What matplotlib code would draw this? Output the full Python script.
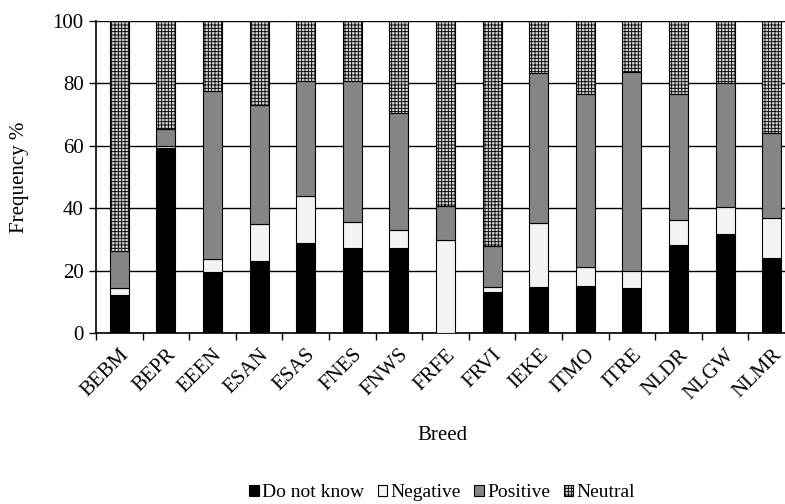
import numpy as np
import matplotlib.pyplot as plt
import matplotlib as mpl

plt.rcParams['font.family'] = ['Liberation Serif', 'DejaVu Serif']
mpl.rcParams['hatch.linewidth'] = 0.6

breeds = ["BEBM", "BEPR", "EEEN", "ESAN", "ESAS", "FNES", "FNWS", "FRFE",
          "FRVI", "IEKE", "ITMO", "ITRE", "NLDR", "NLGW", "NLMR"]
# cumulative tops
top_dont_know = [12.2, 59.4, 19.5, 23.0, 28.9, 27.3, 27.3, 0.0,
                 13.3, 14.9, 15.2, 14.4, 28.2, 31.7, 24.0]
top_negative = [14.4, 59.8, 23.7, 34.9, 43.9, 35.7, 33.0, 29.7,
                14.7, 35.3, 21.1, 19.9, 36.1, 40.4, 36.9]
top_positive = [26.2, 65.5, 77.5, 73.2, 80.9, 80.9, 70.6, 40.7,
                27.9, 83.4, 76.6, 83.5, 76.6, 80.2, 64.2]

dont_know = np.array(top_dont_know)
negative = np.array(top_negative) - dont_know
positive = np.array(top_positive) - np.array(top_negative)
neutral = 100 - np.array(top_positive)

fig = plt.figure(figsize=(7.85, 5.04), dpi=100)
ax = fig.add_axes([96 / 785, 171 / 504, 699 / 785, 312 / 504])

x = np.arange(len(breeds))
w = 0.41
kw = dict(width=w, edgecolor='black', linewidth=0.8, zorder=3)
b1 = ax.bar(x, dont_know, color='black', label='Do not know', **kw)
b2 = ax.bar(x, negative, bottom=dont_know, color='#f3f3f3',
            label='Negative', **kw)
b3 = ax.bar(x, positive, bottom=np.array(top_negative), color='#858585',
            label='Positive', **kw)
b4 = ax.bar(x, neutral, bottom=np.array(top_positive), color='#d0d0d0',
            hatch='+++++', label='Neutral', **kw)

ax.set_xlim(-0.5, len(breeds) - 0.5)
ax.set_ylim(0, 100)
ax.set_yticks([0, 20, 40, 60, 80, 100])
ax.yaxis.grid(True, color='black', linewidth=1.0, zorder=0)
ax.set_axisbelow(True)

ax.set_xticks(x)
ax.set_xticklabels(breeds, rotation=45, ha='right', rotation_mode='anchor',
                   fontsize=15)
ax.set_xticks(np.arange(len(breeds) + 1) - 0.5, minor=True)
ax.tick_params(axis='x', which='major', length=0, pad=9)
ax.tick_params(axis='x', which='minor', length=5, width=1, direction='out')
ax.tick_params(axis='y', length=5, width=1, direction='out', labelsize=15,
               pad=4)

for s in ['top', 'right']:
    ax.spines[s].set_visible(False)
ax.spines['left'].set_linewidth(1.2)
ax.spines['bottom'].set_linewidth(1.2)

fig.text(20 / 785, 1 - 177 / 504, 'Frequency %', rotation=90, fontsize=15,
         ha='center', va='center')
fig.text(442 / 785, 1 - 436 / 504, 'Breed', fontsize=15,
         ha='center', va='center')

fig.legend(handles=[b1, b2, b3, b4], loc='center', bbox_to_anchor=(0.563, 0.022),
           ncol=4, frameon=False, fontsize=14, handlelength=0.5,
           handleheight=0.5, handletextpad=0.15, columnspacing=0.7)

plt.savefig('out.png', dpi=100)
